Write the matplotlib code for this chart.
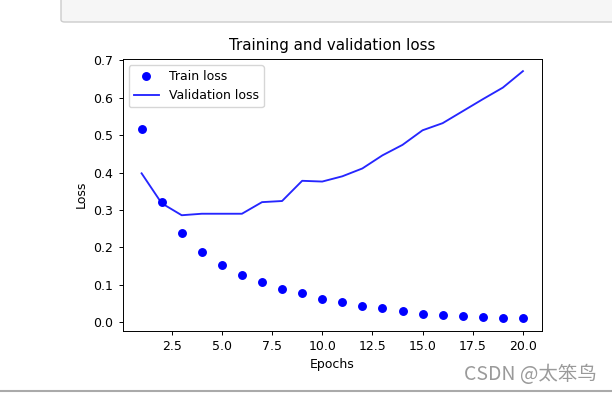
import matplotlib
matplotlib.use("Agg")
import matplotlib.pyplot as plt
from matplotlib.patches import FancyBboxPatch
from matplotlib.lines import Line2D

epochs = list(range(1, 21))
train_loss = [0.517, 0.322, 0.238, 0.188, 0.154, 0.127, 0.107, 0.090, 0.077, 0.063,
              0.054, 0.043, 0.037, 0.029, 0.023, 0.020, 0.017, 0.013, 0.011, 0.011]
val_loss = [0.398, 0.318, 0.286, 0.290, 0.290, 0.290, 0.321, 0.324, 0.378, 0.376,
            0.390, 0.411, 0.446, 0.474, 0.513, 0.532, 0.564, 0.596, 0.627, 0.671]

plt.rcParams['font.family'] = ['DejaVu Sans', 'Noto Sans CJK SC']

fig = plt.figure(figsize=(6.12, 3.93), dpi=100)

# notebook cell frame above the figure
box = FancyBboxPatch((61 / 612, 1 - 22 / 393), 1.2, 1.0, boxstyle="round,pad=0,rounding_size=0.006",
                     transform=fig.transFigure, facecolor='#f6f6f6', edgecolor='#cccccc',
                     linewidth=1.0, zorder=0)
fig.add_artist(box)
fig.add_artist(Line2D([0, 1], [1 - 391 / 393, 1 - 391 / 393], transform=fig.transFigure,
                      color='#aaaaaa', linewidth=1.5))

ax = fig.add_axes([0.2002, 0.159, 0.6854, 0.6914])
ax.plot(epochs, train_loss, 'bo', markersize=5.4, label='Train loss')
ax.plot(epochs, val_loss, 'b', linewidth=1.35, alpha=0.85, label='Validation loss')
ax.set_title('Training and validation loss', fontsize=10.8)
ax.set_xlabel('Epochs', fontsize=9)
ax.set_ylabel('Loss', fontsize=9)
ax.tick_params(labelsize=9, width=0.7, length=3.2)
for s in ax.spines.values():
    s.set_linewidth(0.7)
ax.legend(loc='upper left', fontsize=9)

fig.text(597 / 612, 1 - 375 / 393, 'CSDN @太笨鸟', ha='right', va='center',
         fontsize=14, color='#9a9a9a', family=['Noto Sans CJK SC', 'DejaVu Sans'])

fig.savefig('out.png', dpi=100)
